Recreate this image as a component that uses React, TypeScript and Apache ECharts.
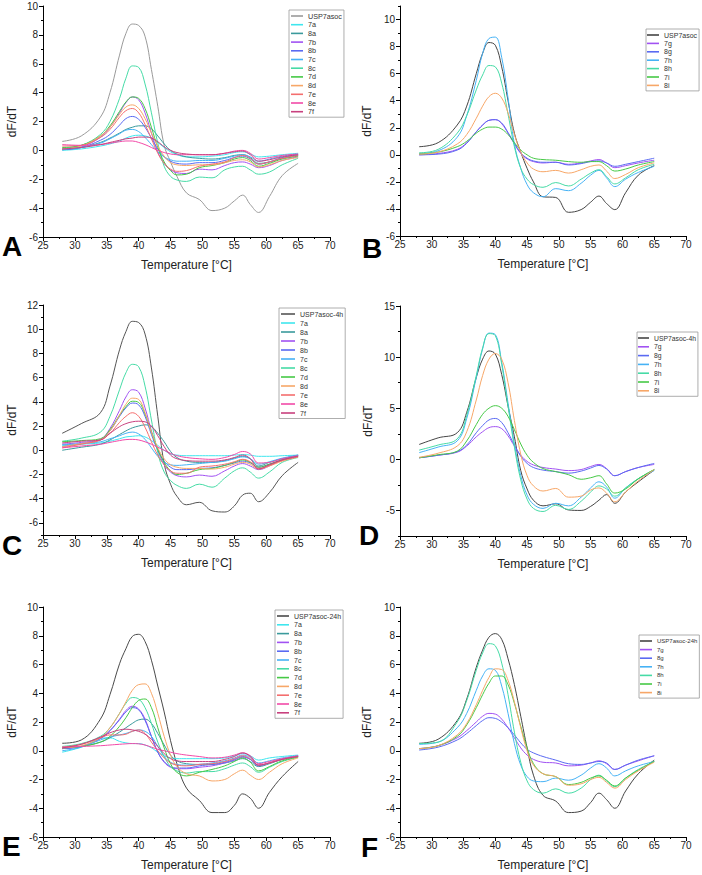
import React, { useEffect, useRef } from "react";
import * as echarts from "echarts";

// Temperatures (°C) at which every melt-curve derivative is sampled
const TEMPS = [28, 31, 34, 35.5, 37, 38, 39, 40, 41, 42, 43, 44, 45, 46, 47.5, 49.5, 51.5, 53.5, 55, 56.3, 57.5, 58.8, 60.5, 62.5, 65];

// Panel A – compounds 7a–7f / 8a–8e with USP7asoc
const A_ctrl = [0.62, 1.0, 2.3, 4.0, 6.6, 8.1, 8.75, 8.65, 7.9, 5.6, 3.05, 0.35, -0.8, -1.8, -2.95, -3.4, -4.17, -4.0, -3.5, -3.1, -3.75, -4.3, -3.2, -1.75, -0.9];
const A_7a = [0.0, 0.1, 0.3, 0.45, 0.65, 0.85, 1.0, 1.05, 1.0, 0.85, 0.55, 0.2, -0.1, -0.3, -0.45, -0.45, -0.4, -0.3, -0.15, -0.1, -0.25, -0.45, -0.4, -0.3, -0.2];
const A_8a = [0.05, 0.2, 0.55, 0.85, 1.2, 1.45, 1.6, 1.7, 1.7, 1.5, 1.0, 0.45, 0.0, -0.25, -0.45, -0.55, -0.6, -0.5, -0.35, -0.3, -0.5, -0.9, -0.8, -0.55, -0.35];
const A_7b = [0.05, 0.25, 0.9, 1.6, 2.6, 3.3, 3.7, 3.5, 2.6, 1.2, -0.1, -0.9, -1.35, -1.55, -1.6, -1.3, -1.35, -1.05, -0.85, -0.8, -0.95, -1.2, -1.05, -0.7, -0.45];
const A_8b = [0.05, 0.2, 0.7, 1.1, 1.75, 2.2, 2.35, 2.15, 1.6, 0.85, 0.1, -0.45, -0.75, -0.9, -0.95, -0.85, -0.85, -0.7, -0.5, -0.4, -0.6, -0.95, -0.8, -0.5, -0.3];
const A_7c = [0.1, 0.2, 0.5, 0.8, 1.15, 1.4, 1.45, 1.3, 0.9, 0.4, -0.1, -0.45, -0.65, -0.75, -0.75, -0.7, -0.7, -0.55, -0.4, -0.3, -0.45, -0.75, -0.6, -0.4, -0.25];
const A_8c = [0.15, 0.35, 1.1, 2.0, 3.6, 5.0, 5.85, 5.75, 4.6, 2.6, 0.5, -1.1, -1.8, -2.05, -2.15, -1.85, -1.9, -1.35, -1.15, -1.1, -1.35, -1.65, -1.5, -1.0, -0.55];
const A_7d = [0.2, 0.35, 1.0, 1.7, 2.7, 3.35, 3.7, 3.6, 2.9, 1.6, 0.2, -0.8, -1.4, -1.7, -1.65, -1.2, -1.05, -0.85, -0.6, -0.5, -0.7, -1.1, -0.9, -0.6, -0.4];
const A_8d = [0.1, 0.3, 1.0, 1.6, 2.5, 3.0, 3.15, 2.9, 2.2, 1.2, 0.3, -0.4, -0.85, -1.0, -1.05, -1.0, -1.0, -0.85, -0.7, -0.65, -0.8, -1.15, -1.0, -0.7, -0.5];
const A_7e = [0.3, 0.35, 0.9, 1.45, 2.3, 2.75, 2.9, 2.6, 1.8, 0.8, -0.2, -0.9, -1.3, -1.45, -1.4, -1.1, -0.95, -0.8, -0.5, -0.35, -0.55, -0.95, -0.8, -0.55, -0.35];
const A_8e = [0.4, 0.35, 0.4, 0.5, 0.6, 0.65, 0.65, 0.55, 0.4, 0.2, 0.0, -0.15, -0.25, -0.3, -0.3, -0.3, -0.3, -0.2, -0.05, 0.0, -0.2, -0.6, -0.5, -0.35, -0.25];
const A_7f = [0.1, 0.2, 0.4, 0.55, 0.7, 0.8, 0.85, 0.92, 0.92, 0.85, 0.6, 0.25, 0.0, -0.15, -0.25, -0.3, -0.3, -0.2, -0.1, -0.05, -0.3, -0.75, -0.65, -0.45, -0.3];

// Panel B – compounds 7g–8i with USP7asoc
const B_ctrl = [0.6, 0.9, 2.2, 3.6, 6.0, 7.5, 8.3, 8.1, 6.5, 4.0, 1.6, 0.2, -1.0, -2.0, -3.1, -3.15, -4.25, -4.05, -3.5, -3.05, -3.6, -4.05, -2.8, -1.5, -0.8];
const B_7g = [0.0, 0.1, 0.4, 0.9, 1.7, 2.2, 2.55, 2.6, 2.3, 1.6, 0.8, 0.1, -0.3, -0.5, -0.6, -0.55, -0.7, -0.6, -0.45, -0.35, -0.6, -0.95, -0.8, -0.6, -0.4];
const B_8g = [0.0, 0.05, 0.35, 0.85, 1.7, 2.2, 2.55, 2.6, 2.35, 1.65, 0.85, 0.15, -0.25, -0.45, -0.55, -0.55, -0.75, -0.65, -0.5, -0.45, -0.6, -0.85, -0.7, -0.5, -0.25];
const B_7h = [0.1, 0.3, 1.3, 2.9, 5.5, 7.5, 8.6, 8.7, 7.2, 4.2, 0.8, -1.0, -2.2, -2.8, -3.1, -2.5, -2.65, -2.1, -1.5, -1.15, -1.7, -2.35, -1.8, -1.3, -0.85];
const B_8h = [0.15, 0.4, 1.6, 2.9, 4.8, 5.9, 6.6, 6.5, 5.3, 3.0, 0.6, -1.0, -1.8, -2.2, -2.4, -2.05, -2.3, -1.8, -1.35, -1.1, -1.6, -2.15, -1.7, -1.1, -0.7];
const B_7i = [0.05, 0.2, 0.6, 1.0, 1.6, 1.9, 2.05, 2.05, 1.9, 1.5, 0.9, 0.35, 0.0, -0.25, -0.35, -0.4, -0.5, -0.55, -0.5, -0.5, -0.8, -1.2, -1.05, -0.75, -0.5];
const B_8i = [0.05, 0.2, 0.8, 1.5, 2.7, 3.6, 4.3, 4.55, 4.2, 3.1, 1.5, 0.2, -0.6, -1.05, -1.25, -1.15, -1.35, -1.1, -0.85, -0.75, -1.2, -1.75, -1.45, -0.95, -0.6];

// Panel C – 4 h incubation, compounds 7a–7f / 8a–8e
const C_ctrl = [1.4, 2.2, 3.1, 5.3, 8.3, 9.8, 10.65, 10.55, 9.6, 6.8, 2.8, -1.1, -2.8, -3.8, -4.5, -4.3, -5.0, -5.1, -4.6, -3.7, -3.55, -4.25, -3.5, -2.1, -1.0];
const C_7a = [0.4, 0.5, 0.6, 0.75, 0.95, 1.1, 1.15, 1.2, 1.1, 0.8, 0.4, 0.0, -0.3, -0.4, -0.45, -0.45, -0.45, -0.45, -0.4, -0.35, -0.4, -0.5, -0.5, -0.45, -0.4];
const C_8a = [0.0, 0.25, 0.5, 0.85, 1.3, 1.6, 1.85, 2.0, 2.1, 1.95, 1.4, 0.7, -0.1, -0.6, -0.9, -1.0, -1.0, -0.85, -0.65, -0.5, -0.7, -1.3, -1.0, -0.7, -0.4];
const C_7b = [0.5, 0.65, 0.9, 1.8, 3.3, 4.4, 5.0, 4.8, 3.5, 1.6, 0.0, -1.2, -1.8, -2.1, -2.2, -2.05, -2.15, -1.7, -1.3, -1.1, -1.3, -1.6, -1.3, -0.8, -0.45];
const C_8b = [0.3, 0.55, 0.85, 1.6, 2.8, 3.5, 3.9, 3.75, 2.8, 1.3, 0.0, -0.9, -1.4, -1.6, -1.6, -1.5, -1.45, -1.25, -1.05, -0.9, -1.05, -1.4, -1.15, -0.8, -0.45];
const C_7c = [0.45, 0.55, 0.7, 0.95, 1.2, 1.4, 1.5, 1.35, 0.9, 0.2, -0.5, -1.0, -1.2, -1.25, -1.2, -1.1, -1.0, -0.9, -0.7, -0.55, -0.7, -1.15, -0.95, -0.65, -0.4];
const C_8c = [0.75, 1.0, 1.5, 2.8, 5.0, 6.4, 7.1, 6.9, 5.3, 2.5, -0.2, -1.8, -2.5, -2.9, -3.15, -2.8, -3.05, -2.3, -1.7, -1.45, -1.8, -2.3, -1.8, -1.0, -0.6];
const C_7d = [0.7, 0.8, 0.95, 1.7, 2.9, 3.6, 4.05, 3.95, 3.0, 1.5, 0.1, -1.0, -1.7, -2.0, -1.9, -1.6, -1.5, -1.25, -1.0, -0.8, -1.0, -1.4, -1.15, -0.8, -0.5];
const C_8d = [0.3, 0.55, 0.85, 1.6, 2.9, 3.8, 4.3, 4.2, 3.1, 1.5, 0.2, -0.7, -1.2, -1.4, -1.5, -1.5, -1.55, -1.4, -1.15, -1.0, -1.15, -1.55, -1.3, -0.9, -0.55];
const C_7e = [0.2, 0.5, 0.85, 1.4, 2.3, 2.8, 3.1, 2.8, 1.9, 0.7, -0.4, -1.2, -1.7, -1.9, -1.9, -1.4, -1.3, -1.15, -0.95, -0.75, -0.95, -1.5, -1.25, -0.85, -0.55];
const C_8e = [0.2, 0.35, 0.5, 0.65, 0.8, 0.88, 0.9, 0.85, 0.7, 0.5, 0.25, 0.0, -0.25, -0.45, -0.6, -0.7, -0.75, -0.6, -0.35, -0.1, -0.3, -1.05, -1.0, -0.7, -0.45];
const C_7f = [0.6, 0.75, 0.85, 1.4, 1.95, 2.2, 2.35, 2.4, 2.35, 2.0, 1.2, 0.3, -0.4, -0.7, -0.85, -0.9, -0.9, -0.8, -0.6, -0.4, -0.7, -1.55, -1.2, -0.8, -0.5];

// Panel D – 4 h incubation, compounds 7g–8i
const D_ctrl = [1.45, 2.1, 2.6, 4.6, 8.0, 9.8, 10.6, 10.3, 8.3, 5.2, 2.2, -1.1, -2.9, -4.0, -4.55, -4.35, -4.95, -5.0, -4.6, -4.0, -3.45, -4.3, -3.2, -2.2, -1.05];
const D_7g = [0.15, 0.4, 0.7, 1.3, 2.2, 2.7, 3.1, 3.2, 3.0, 2.3, 1.3, 0.4, -0.2, -0.55, -0.8, -0.95, -1.1, -1.0, -0.7, -0.5, -0.9, -1.6, -1.2, -0.8, -0.5];
const D_8g = [0.15, 0.4, 0.75, 1.4, 2.6, 3.3, 3.85, 4.0, 3.6, 2.6, 1.4, 0.3, -0.4, -0.8, -1.05, -1.2, -1.35, -1.15, -0.85, -0.6, -0.95, -1.6, -1.2, -0.8, -0.4];
const D_7h = [0.65, 1.2, 1.8, 4.0, 8.0, 10.8, 12.35, 12.2, 9.5, 5.5, 1.5, -1.6, -3.5, -4.4, -4.8, -4.3, -4.55, -3.7, -2.8, -2.2, -2.7, -3.8, -2.8, -1.9, -1.1];
const D_8h = [0.9, 1.4, 2.0, 4.3, 8.2, 10.9, 12.3, 12.1, 9.3, 5.2, 1.2, -2.0, -3.9, -4.8, -5.1, -4.5, -4.9, -4.1, -3.2, -2.6, -2.9, -3.6, -2.8, -1.9, -1.0];
const D_7i = [0.15, 0.45, 0.8, 1.8, 3.4, 4.4, 5.0, 5.25, 5.0, 4.2, 2.9, 1.5, 0.4, -0.3, -0.9, -1.2, -1.5, -1.95, -1.8, -1.6, -2.4, -3.3, -2.9, -1.9, -1.0];
const D_8i = [0.2, 0.6, 1.3, 2.7, 5.8, 8.2, 9.8, 10.35, 9.8, 7.5, 3.8, 0.5, -1.6, -2.6, -3.1, -2.85, -3.7, -3.6, -3.0, -2.8, -3.3, -4.15, -3.2, -2.1, -1.0];

// Panel E – 24 h incubation, compounds 7a–7f / 8a–8e
const E_ctrl = [0.52, 0.75, 2.2, 3.9, 6.05, 7.1, 7.95, 8.1, 7.6, 6.3, 4.5, 2.7, 0.7, -0.9, -2.6, -3.45, -4.3, -4.3, -3.8, -3.0, -3.3, -4.0, -2.9, -1.8, -0.75];
const E_7a = [-0.1, 0.25, 0.85, 0.9, 0.65, 0.55, 0.5, 0.5, 0.4, 0.2, -0.1, -0.35, -0.5, -0.55, -0.55, -0.55, -0.55, -0.5, -0.35, -0.2, -0.35, -0.65, -0.5, -0.4, -0.3];
const E_8a = [0.15, 0.3, 0.6, 0.9, 1.3, 1.6, 1.9, 2.15, 2.2, 1.9, 1.2, 0.4, -0.3, -0.7, -0.9, -0.95, -0.95, -0.85, -0.7, -0.55, -0.75, -1.1, -0.9, -0.6, -0.35];
const E_7b = [0.15, 0.3, 0.85, 1.4, 2.2, 2.8, 3.1, 2.9, 2.2, 1.0, -0.1, -0.8, -1.15, -1.25, -1.25, -1.15, -1.05, -0.85, -0.65, -0.45, -0.6, -1.0, -0.85, -0.6, -0.4];
const E_8b = [0.15, 0.3, 0.85, 1.4, 2.15, 2.7, 3.0, 2.85, 2.1, 1.0, -0.1, -0.75, -1.1, -1.2, -1.2, -1.05, -0.95, -0.8, -0.6, -0.4, -0.6, -1.05, -0.85, -0.6, -0.4];
const E_7c = [0.0, 0.25, 0.75, 0.95, 1.1, 1.2, 1.35, 1.45, 1.35, 1.0, 0.3, -0.4, -0.8, -0.95, -1.0, -0.95, -0.85, -0.7, -0.5, -0.3, -0.45, -0.85, -0.7, -0.5, -0.35];
const E_8c = [0.3, 0.5, 1.0, 1.6, 2.6, 3.3, 3.7, 3.6, 3.0, 1.9, 0.6, -0.4, -1.1, -1.4, -1.55, -1.45, -1.45, -1.25, -1.0, -0.85, -1.1, -1.5, -1.15, -0.75, -0.45];
const E_7d = [0.2, 0.3, 0.6, 1.0, 1.7, 2.3, 3.0, 3.5, 3.6, 3.0, 1.6, 0.2, -0.9, -1.5, -1.75, -1.5, -1.3, -1.05, -0.75, -0.5, -0.8, -1.4, -1.1, -0.7, -0.45];
const E_8d = [0.2, 0.35, 0.9, 1.6, 2.6, 3.4, 4.2, 4.6, 4.65, 4.0, 2.6, 1.0, -0.3, -1.1, -1.6, -1.75, -2.1, -2.0, -1.6, -1.35, -1.7, -2.0, -1.5, -0.9, -0.5];
const E_7e = [0.25, 0.45, 0.9, 1.1, 1.1, 1.15, 1.35, 1.45, 1.2, 0.6, 0.0, -0.5, -0.85, -1.0, -1.05, -0.95, -0.9, -0.75, -0.55, -0.35, -0.55, -1.0, -0.85, -0.6, -0.4];
const E_8e = [0.25, 0.3, 0.35, 0.4, 0.45, 0.48, 0.5, 0.48, 0.4, 0.25, 0.1, 0.0, -0.1, -0.2, -0.3, -0.4, -0.5, -0.45, -0.3, -0.15, -0.35, -0.9, -0.75, -0.55, -0.35];
const E_7f = [0.2, 0.45, 0.95, 1.25, 1.45, 1.5, 1.45, 1.35, 1.15, 0.8, 0.3, -0.2, -0.55, -0.7, -0.75, -0.75, -0.75, -0.6, -0.4, -0.15, -0.4, -1.0, -0.85, -0.6, -0.4];

// Panel F – 24 h incubation, compounds 7g–8i
const F_ctrl = [0.52, 0.8, 2.1, 3.6, 5.8, 7.0, 7.9, 8.15, 7.75, 6.4, 4.6, 2.4, 0.2, -1.7, -3.1, -3.5, -4.3, -4.2, -3.6, -2.95, -3.4, -4.0, -2.8, -1.6, -0.65];
const F_7g = [0.15, 0.35, 0.9, 1.4, 2.0, 2.4, 2.6, 2.55, 2.2, 1.6, 0.9, 0.2, -0.3, -0.6, -0.8, -0.85, -1.05, -1.0, -0.85, -0.7, -0.9, -1.3, -1.0, -0.7, -0.35];
const F_8g = [0.05, 0.25, 0.75, 1.2, 1.75, 2.1, 2.3, 2.25, 2.0, 1.6, 1.1, 0.55, 0.1, -0.15, -0.4, -0.65, -0.9, -0.95, -0.85, -0.75, -0.85, -1.3, -1.0, -0.65, -0.35];
const F_7h = [0.45, 0.6, 1.6, 2.6, 4.2, 5.2, 5.7, 5.6, 4.5, 2.6, 0.5, -1.0, -1.8, -2.1, -2.15, -1.9, -2.05, -1.7, -1.2, -0.9, -1.2, -1.75, -1.4, -1.05, -0.75];
const F_8h = [0.5, 0.6, 2.0, 3.5, 5.6, 6.8, 7.45, 7.3, 6.1, 3.9, 1.3, -0.8, -2.1, -2.7, -2.95, -2.65, -2.95, -2.6, -2.0, -1.7, -2.1, -2.5, -1.9, -1.3, -0.75];
const F_7i = [0.15, 0.35, 1.0, 1.8, 3.0, 3.9, 4.7, 5.2, 5.2, 4.6, 3.3, 1.7, 0.2, -0.9, -1.6, -1.8, -2.35, -2.2, -1.9, -1.75, -2.05, -2.45, -1.9, -1.35, -0.75];
const F_8i = [0.15, 0.35, 1.1, 1.9, 3.2, 4.2, 5.1, 5.7, 5.65, 4.9, 3.4, 1.6, 0.0, -1.0, -1.6, -1.8, -2.4, -2.3, -2.0, -1.85, -2.2, -2.6, -2.0, -1.4, -0.8];

// Axis tick labels
const X_TICKS = [25, 30, 35, 40, 45, 50, 55, 60, 65, 70];
const Y_TICKS_A = [-6, -4, -2, 0, 2, 4, 6, 8, 10];
const Y_MINOR_A = [-5, -3, -1, 1, 3, 5, 7, 9];
const Y_TICKS_B = [-6, -4, -2, 0, 2, 4, 6, 8, 10];
const Y_MINOR_B = [-5, -3, -1, 1, 3, 5, 7, 9, 11];
const Y_TICKS_C = [-6, -4, -2, 0, 2, 4, 6, 8, 10, 12];
const Y_MINOR_C = [-7, -5, -3, -1, 1, 3, 5, 7, 9, 11];
const Y_TICKS_D = [-5, 0, 5, 10, 15];
const Y_MINOR_D = [-7.5, -2.5, 2.5, 7.5, 12.5];

const COLORS: Record<string, string> = {
  "7a": "#3fe6ee",
  "8a": "#3a9a9c",
  "7b": "#a152f2",
  "8b": "#5a6af2",
  "7c": "#46b2f5",
  "8c": "#46dba6",
  "7d": "#46c946",
  "8d": "#f7a768",
  "7e": "#f46e6e",
  "8e": "#f24aa8",
  "7f": "#c8407e",
  "7g": "#a152f2",
  "8g": "#5a6af2",
  "7h": "#46b2f5",
  "8h": "#46dba6",
  "7i": "#46c946",
  "8i": "#f7a768",
};

const FONT = '"Liberation Sans", Arial, Helvetica, sans-serif';

type Panel = {
  letter: string;
  letterX: number;
  letterY: number;
  grid: { left: number; top: number; width: number; height: number };
  yMin: number;
  yMax: number;
  yStep: number;
  yMajor: number[];
  yMinor: number[];
  yNameGap: number;
  legend: { left: number; top: number; gap: number; iconW: number; fontSize: number; padL: number };
  ctrl: { name: string; color: string; values: number[] };
  curves: [string, number[]][];
};

const PANELS: Panel[] = [
  {
    letter: "A", letterX: 2, letterY: 246,
    grid: { left: 43, top: 6, width: 287, height: 231 },
    yMin: -6, yMax: 10, yStep: 1, yMajor: Y_TICKS_A, yMinor: Y_MINOR_A, yNameGap: 25,
    legend: { left: 289, top: 10, gap: 0.7, iconW: 12, fontSize: 7.2, padL: 2 },
    ctrl: { name: "USP7asoc", color: "#9a9a9a", values: A_ctrl },
    curves: [["7a", A_7a], ["8a", A_8a], ["7b", A_7b], ["8b", A_8b], ["7c", A_7c], ["8c", A_8c], ["7d", A_7d], ["8d", A_8d], ["7e", A_7e], ["8e", A_8e], ["7f", A_7f]],
  },
  {
    letter: "B", letterX: 362, letterY: 248,
    grid: { left: 400, top: 6, width: 286, height: 230 },
    yMin: -6, yMax: 11, yStep: 1, yMajor: Y_TICKS_B, yMinor: Y_MINOR_B, yNameGap: 27,
    legend: { left: 646, top: 29, gap: 0.4, iconW: 12, fontSize: 7, padL: 1 },
    ctrl: { name: "USP7asoc", color: "#454545", values: B_ctrl },
    curves: [["7g", B_7g], ["8g", B_8g], ["7h", B_7h], ["8h", B_8h], ["7i", B_7i], ["8i", B_8i]],
  },
  {
    letter: "C", letterX: 2, letterY: 545,
    grid: { left: 43, top: 305, width: 287, height: 230 },
    yMin: -7, yMax: 12, yStep: 1, yMajor: Y_TICKS_C, yMinor: Y_MINOR_C, yNameGap: 25,
    legend: { left: 279, top: 308, gap: 1.0, iconW: 14, fontSize: 7, padL: 2 },
    ctrl: { name: "USP7asoc-4h", color: "#555555", values: C_ctrl },
    curves: [["7a", C_7a], ["8a", C_8a], ["7b", C_7b], ["8b", C_8b], ["7c", C_7c], ["8c", C_8c], ["7d", C_7d], ["8d", C_8d], ["7e", C_7e], ["8e", C_8e], ["7f", C_7f]],
  },
  {
    letter: "D", letterX: 359, letterY: 535,
    grid: { left: 400, top: 306, width: 286, height: 230 },
    yMin: -7.5, yMax: 15, yStep: 2.5, yMajor: Y_TICKS_D, yMinor: Y_MINOR_D, yNameGap: 26,
    legend: { left: 637, top: 332, gap: 0.8, iconW: 11, fontSize: 6.8, padL: 1 },
    ctrl: { name: "USP7asoc-4h", color: "#454545", values: D_ctrl },
    curves: [["7g", D_7g], ["8g", D_8g], ["7h", D_7h], ["8h", D_8h], ["7i", D_7i], ["8i", D_8i]],
  },
  {
    letter: "E", letterX: 2, letterY: 846,
    grid: { left: 43, top: 607, width: 287, height: 230 },
    yMin: -6, yMax: 10, yStep: 1, yMajor: Y_TICKS_A, yMinor: Y_MINOR_A, yNameGap: 25,
    legend: { left: 275, top: 610, gap: 0.8, iconW: 12, fontSize: 7, padL: 2 },
    ctrl: { name: "USP7asoc-24h", color: "#4a4a4a", values: E_ctrl },
    curves: [["7a", E_7a], ["8a", E_8a], ["7b", E_7b], ["8b", E_8b], ["7c", E_7c], ["8c", E_8c], ["7d", E_7d], ["8d", E_8d], ["7e", E_7e], ["8e", E_8e], ["7f", E_7f]],
  },
  {
    letter: "F", letterX: 361, letterY: 847,
    grid: { left: 400, top: 607, width: 286, height: 230 },
    yMin: -6, yMax: 10, yStep: 1, yMajor: Y_TICKS_A, yMinor: Y_MINOR_A, yNameGap: 27,
    legend: { left: 639, top: 635, gap: 0.6, iconW: 12, fontSize: 6, padL: 1 },
    ctrl: { name: "USP7asoc-24h", color: "#454545", values: F_ctrl },
    curves: [["7g", F_7g], ["8g", F_8g], ["7h", F_7h], ["8h", F_8h], ["7i", F_7i], ["8i", F_8i]],
  },
];

function buildOption() {
  const grid: any[] = [];
  const xAxis: any[] = [];
  const yAxis: any[] = [];
  const series: any[] = [];
  const legend: any[] = [];
  const graphic: any[] = [];

  PANELS.forEach((p, i) => {
    grid.push({ ...p.grid, containLabel: false });

    xAxis.push({
      type: "value",
      gridIndex: i,
      min: X_TICKS[0],
      max: X_TICKS[X_TICKS.length - 1],
      interval: X_TICKS[1] - X_TICKS[0],
      axisLine: { show: true, onZero: false, lineStyle: { color: "#000", width: 1 } },
      axisTick: { show: true, length: 4, lineStyle: { color: "#000", width: 1 } },
      minorTick: { show: true, splitNumber: 2, length: 2, lineStyle: { color: "#000", width: 1 } },
      axisLabel: { fontSize: 10, color: "#222", margin: 3, fontFamily: FONT },
      splitLine: { show: false },
      minorSplitLine: { show: false },
      name: "Temperature [°C]",
      nameLocation: "middle",
      nameGap: 22,
      nameTextStyle: { fontSize: 12, color: "#222", fontFamily: FONT },
    });

    yAxis.push({
      type: "value",
      gridIndex: i,
      position: "left",
      min: p.yMin,
      max: p.yMax,
      interval: p.yStep,
      axisLine: { show: true, onZero: false, lineStyle: { color: "#000", width: 1 } },
      axisTick: { show: true, length: 4, customValues: p.yMajor, lineStyle: { color: "#000", width: 1 } },
      axisLabel: { customValues: p.yMajor, fontSize: 10, color: "#222", margin: 5, fontFamily: FONT },
      splitLine: { show: false },
      name: "dF/dT",
      nameLocation: "middle",
      nameGap: p.yNameGap,
      nameTextStyle: { fontSize: 12, color: "#222", fontFamily: FONT },
    });
    // minor ticks between the labelled values
    yAxis.push({
      type: "value",
      gridIndex: i,
      position: "left",
      min: p.yMin,
      max: p.yMax,
      interval: p.yStep,
      axisLine: { show: false, onZero: false },
      axisTick: { show: true, length: 2, customValues: p.yMinor, lineStyle: { color: "#000", width: 1 } },
      axisLabel: { show: false },
      splitLine: { show: false },
    });

    const all: { name: string; color: string; values: number[] }[] = [
      p.ctrl,
      ...p.curves.map(([name, values]) => ({ name, color: COLORS[name], values })),
    ];

    all.forEach((c) => {
      series.push({
        type: "line",
        name: c.name,
        xAxisIndex: i,
        yAxisIndex: i * 2,
        data: TEMPS.map((t, k) => [t, c.values[k]]),
        smooth: 0.4,
        symbol: "none",
        silent: true,
        lineStyle: { width: 1, color: c.color },
        itemStyle: { color: c.color },
        emphasis: { disabled: true },
      });
    });

    legend.push({
      orient: "vertical",
      left: p.legend.left,
      top: p.legend.top,
      icon: "rect",
      itemWidth: p.legend.iconW,
      itemHeight: 1.6,
      itemGap: p.legend.gap,
      padding: [2, 2, 1.5, p.legend.padL],
      borderColor: "#999",
      borderWidth: 0.8,
      borderRadius: 0,
      backgroundColor: "#fff",
      selectedMode: false,
      textStyle: { fontSize: p.legend.fontSize, lineHeight: 8, color: "#333", fontFamily: FONT },
      data: all.map((c) => ({ name: c.name, itemStyle: { color: c.color } })),
    });

    graphic.push({
      type: "text",
      x: p.letterX,
      y: p.letterY,
      silent: true,
      style: {
        text: p.letter,
        fontSize: 28,
        fontWeight: "bold",
        fontFamily: FONT,
        fill: "#000",
        align: "left",
        verticalAlign: "middle",
      },
    });
  });

  return {
    animation: false,
    backgroundColor: "#fff",
    grid,
    xAxis,
    yAxis,
    series,
    legend,
    graphic,
  };
}

export default function App() {
  const ref = useRef<HTMLDivElement>(null);

  useEffect(() => {
    if (!ref.current) return;
    const chart = echarts.init(ref.current, undefined, { renderer: "svg" });
    chart.setOption(buildOption());
    return () => chart.dispose();
  }, []);

  return (
    <div
      ref={ref}
      style={{ position: "fixed", left: 0, top: 0, width: 702, height: 875, background: "#fff" }}
    />
  );
}
